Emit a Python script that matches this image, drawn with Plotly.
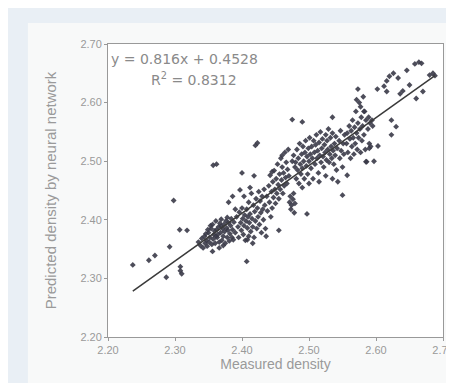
import plotly.graph_objects as go

# Measured (x) and predicted (y) densities
measured_density = [
    # outliers / sparse
    2.237, 2.261, 2.270, 2.287, 2.292, 2.298, 2.307, 2.318, 2.308, 2.308, 2.310,
    2.356, 2.357, 2.362, 2.407, 2.455, 2.497, 2.475, 2.490, 2.535, 2.550, 2.557,
    # cluster A
    2.335, 2.338, 2.340, 2.342, 2.344, 2.345, 2.347, 2.348, 2.350, 2.351, 2.352,
    2.354, 2.355, 2.356, 2.357, 2.358, 2.360, 2.361, 2.362, 2.363, 2.365, 2.366,
    2.367, 2.368, 2.369, 2.370, 2.371, 2.372, 2.373, 2.374, 2.375, 2.376, 2.377,
    2.378, 2.379, 2.380, 2.381, 2.382, 2.383, 2.384, 2.385, 2.386, 2.387, 2.388,
    2.390, 2.364, 2.359, 2.353, 2.349, 2.346, 2.372, 2.366, 2.378, 2.369, 2.361,
    # cluster B
    2.392, 2.394, 2.395, 2.396, 2.398, 2.399, 2.400, 2.401, 2.402, 2.403, 2.404,
    2.405, 2.406, 2.407, 2.408, 2.409, 2.410, 2.410, 2.411, 2.412, 2.413, 2.414,
    2.415, 2.416, 2.417, 2.418, 2.419, 2.420, 2.421, 2.422, 2.423, 2.424, 2.425,
    2.426, 2.427, 2.428, 2.429, 2.430, 2.431, 2.432, 2.433, 2.434, 2.435, 2.403,
    2.400, 2.412, 2.420, 2.423, 2.418, 2.397, 2.380, 2.386, 2.390, 2.436, 2.416,
    2.408,
    # band C
    2.437, 2.438, 2.440, 2.441, 2.442, 2.443, 2.444, 2.445, 2.446, 2.447, 2.448,
    2.449, 2.450, 2.451, 2.452, 2.453, 2.454, 2.455, 2.456, 2.457, 2.458, 2.459,
    2.460, 2.461, 2.462, 2.463, 2.464, 2.465, 2.466, 2.467, 2.468, 2.469, 2.470,
    2.471, 2.472, 2.473, 2.474, 2.476, 2.477, 2.478, 2.479, 2.475, 2.477, 2.479,
    2.445, 2.460,
    # band D
    2.480, 2.481, 2.482, 2.483, 2.484, 2.485, 2.486, 2.487, 2.488, 2.489, 2.490,
    2.491, 2.492, 2.493, 2.494, 2.495, 2.496, 2.497, 2.498, 2.499, 2.500, 2.501,
    2.502, 2.503, 2.504, 2.505, 2.506, 2.507, 2.508, 2.509, 2.510, 2.511, 2.512,
    2.513, 2.514, 2.515, 2.516, 2.517, 2.518, 2.519, 2.520, 2.521, 2.522, 2.523,
    2.524, 2.525, 2.526, 2.527, 2.528, 2.529, 2.530, 2.531, 2.532, 2.533, 2.534,
    2.535, 2.536, 2.537, 2.538, 2.539, 2.540, 2.541, 2.542, 2.543, 2.545, 2.546,
    2.547, 2.548, 2.550, 2.551, 2.552, 2.553, 2.515, 2.525, 2.535, 2.490, 2.500,
    # band E
    2.556, 2.557, 2.558, 2.560, 2.561, 2.562, 2.563, 2.564, 2.565, 2.566, 2.567,
    2.568, 2.569, 2.570, 2.571, 2.572, 2.573, 2.574, 2.575, 2.576, 2.577, 2.578,
    2.579, 2.580, 2.581, 2.582, 2.583, 2.584, 2.585, 2.586, 2.588, 2.589, 2.590,
    2.591, 2.592, 2.594, 2.595, 2.597, 2.573, 2.577, 2.582, 2.571, 2.585, 2.590,
    # upper F
    2.603, 2.602, 2.616, 2.620, 2.626, 2.633, 2.640, 2.646, 2.660, 2.670, 2.658,
    2.664, 2.668, 2.680, 2.688, 2.685, 2.623, 2.630, 2.623, 2.616, 2.612, 2.636,
    2.650,
]

predicted_density = [
    # outliers / sparse
    2.323, 2.331, 2.339, 2.302, 2.354, 2.433, 2.383, 2.382, 2.320, 2.313, 2.308,
    2.346, 2.493, 2.495, 2.329, 2.382, 2.410, 2.571, 2.567, 2.575, 2.442, 2.476,
    # cluster A
    2.362, 2.356, 2.368, 2.352, 2.372, 2.360, 2.365, 2.355, 2.378, 2.362, 2.370,
    2.385, 2.358, 2.392, 2.367, 2.375, 2.360, 2.398, 2.383, 2.370, 2.388, 2.362,
    2.394, 2.378, 2.401, 2.365, 2.385, 2.372, 2.392, 2.380, 2.360, 2.398, 2.386,
    2.370, 2.382, 2.395, 2.364, 2.376, 2.390, 2.402, 2.370, 2.383, 2.366, 2.396,
    2.378, 2.375, 2.381, 2.390, 2.383, 2.376, 2.356, 2.352, 2.404, 2.389, 2.372,
    # cluster B
    2.405, 2.388, 2.370, 2.413, 2.395, 2.382, 2.420, 2.402, 2.375, 2.390, 2.408,
    2.365, 2.398, 2.418, 2.386, 2.405, 2.372, 2.430, 2.395, 2.410, 2.380, 2.445,
    2.402, 2.388, 2.425, 2.370, 2.414, 2.398, 2.436, 2.385, 2.420, 2.405, 2.448,
    2.392, 2.432, 2.412, 2.378, 2.440, 2.418, 2.400, 2.452, 2.425, 2.385, 2.440,
    2.480, 2.455, 2.527, 2.531, 2.475, 2.451, 2.430, 2.440, 2.418, 2.372, 2.360,
    2.366,
    # band C
    2.440, 2.415, 2.458, 2.430, 2.476, 2.405, 2.448, 2.420, 2.465, 2.438, 2.484,
    2.452, 2.428, 2.470, 2.445, 2.495, 2.460, 2.436, 2.478, 2.452, 2.505, 2.468,
    2.490, 2.445, 2.480, 2.458, 2.515, 2.472, 2.498, 2.462, 2.486, 2.520, 2.475,
    2.430, 2.440, 2.418, 2.425, 2.435, 2.445, 2.412, 2.428, 2.500, 2.510, 2.490,
    2.482, 2.510,
    # band D
    2.498, 2.470, 2.520, 2.485, 2.505, 2.462, 2.530, 2.495, 2.478, 2.512, 2.488,
    2.525, 2.500, 2.470, 2.515, 2.535, 2.492, 2.508, 2.478, 2.522, 2.500, 2.540,
    2.512, 2.488, 2.525, 2.505, 2.470, 2.535, 2.515, 2.495, 2.528, 2.545, 2.505,
    2.518, 2.480, 2.532, 2.510, 2.550, 2.498, 2.522, 2.538, 2.508, 2.490, 2.528,
    2.515, 2.545, 2.502, 2.535, 2.520, 2.555, 2.498, 2.512, 2.540, 2.525, 2.505,
    2.548, 2.518, 2.495, 2.530, 2.510, 2.542, 2.485, 2.522, 2.465, 2.535, 2.505,
    2.552, 2.518, 2.490, 2.530, 2.512, 2.545, 2.465, 2.475, 2.470, 2.455, 2.462,
    # band E
    2.530, 2.548, 2.515, 2.560, 2.538, 2.505, 2.552, 2.525, 2.570, 2.540, 2.512,
    2.558, 2.530, 2.585, 2.548, 2.520, 2.565, 2.540, 2.600, 2.555, 2.515, 2.575,
    2.535, 2.560, 2.610, 2.545, 2.585, 2.520, 2.570, 2.499, 2.555, 2.575, 2.530,
    2.565, 2.525, 2.570, 2.560, 2.500, 2.623, 2.593, 2.585, 2.605, 2.499, 2.522,
    # upper F
    2.526, 2.623, 2.637, 2.645, 2.650, 2.642, 2.620, 2.655, 2.607, 2.619, 2.666,
    2.669, 2.667, 2.647, 2.646, 2.650, 2.570, 2.559, 2.545, 2.619, 2.628, 2.615,
    2.630,
]

# Linear trendline coefficients shown on the chart
slope = 0.816
intercept = 0.4528
r_squared = 0.8312

tick_vals = [2.20, 2.30, 2.40, 2.50, 2.60, 2.70]
tick_text = ["2.20", "2.30", "2.40", "2.50", "2.60", "2.70"]

x_min, x_max = min(measured_density), max(measured_density)
trend_x = [x_min, x_max]
trend_y = [slope * v + intercept for v in trend_x]

fig = go.Figure()
fig.add_trace(go.Scatter(
    x=measured_density, y=predicted_density, mode="markers",
    marker=dict(symbol="diamond", size=4.5, color="#3a3a48", opacity=0.9),
    showlegend=False, hoverinfo="x+y",
))
fig.add_trace(go.Scatter(
    x=trend_x, y=trend_y, mode="lines",
    line=dict(color="#3a3a3a", width=1.5),
    showlegend=False, hoverinfo="skip",
))

font_family = "Arial, Liberation Sans, sans-serif"
gray = "#9a9a9a"

axis_common = dict(
    range=[2.20, 2.70], tickvals=tick_vals, ticktext=tick_text,
    showgrid=False, zeroline=False,
    showline=True, linecolor="#999999", linewidth=1, mirror=True,
    ticks="outside", ticklen=3, tickcolor="#999999",
    tickfont=dict(family=font_family, size=11, color=gray),
    ticklabeloverflow="allow", automargin=False,
)

blue = "#e9eff5"
# The page body has an 8px margin, so the figure is sized to fit the window
fig.update_layout(
    width=438, height=375,
    margin=dict(l=100, r=3, t=36, b=46),
    paper_bgcolor="#f8f9f9",
    plot_bgcolor="#ffffff",
    font=dict(family=font_family, color=gray),
    xaxis=dict(**axis_common,
               title=dict(text="Measured density", font=dict(size=14, color=gray), standoff=0)),
    yaxis=dict(**axis_common,
               title=dict(text="Predicted density by neural network", font=dict(size=15, color=gray), standoff=20)),
    shapes=[
        dict(type="rect", xref="paper", yref="paper",
             x0=-0.33, x1=-0.239, y0=-0.2, y1=1.16,
             fillcolor=blue, line=dict(width=0), layer="below"),
        dict(type="rect", xref="paper", yref="paper",
             x0=-0.33, x1=1.04, y0=1.072, y1=1.16,
             fillcolor=blue, line=dict(width=0), layer="below"),
    ],
    annotations=[
        dict(xref="paper", yref="paper", x=0, y=0.982, xanchor="left", yanchor="top",
             text="y = 0.816x + 0.4528", showarrow=False, xshift=1,
             font=dict(family="DejaVu Sans, sans-serif", size=14, color="#8a8a8a")),
        dict(xref="paper", yref="paper", x=0.258, y=0.918, xanchor="center", yanchor="top",
             text="R<sup>2</sup> = 0.8312", showarrow=False,
             font=dict(family="DejaVu Sans, sans-serif", size=14, color="#8a8a8a")),
    ],
)

fig.write_html("out.html", config={"displayModeBar": False})
